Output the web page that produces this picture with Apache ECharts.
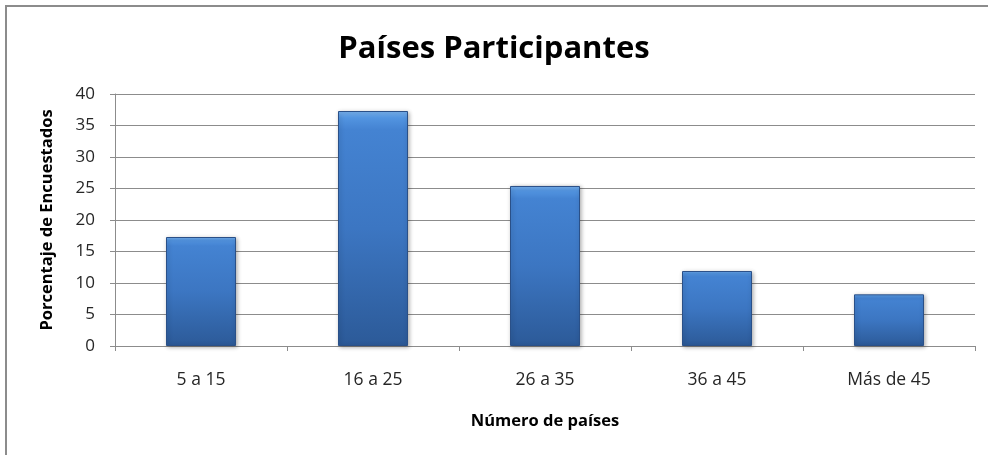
<!DOCTYPE html>
<html>
<head>
<meta charset="utf-8">
<script src="https://cdn.jsdelivr.net/npm/echarts@6/dist/echarts.min.js"></script>
<style>
  html, body { margin: 0; padding: 0; background: #fff; }
  #chart { width: 988px; height: 455px; }
</style>
</head>
<body>
<div id="chart"></div>
<script>
var categories = ['5 a 15', '16 a 25', '26 a 35', '36 a 45', 'Más de 45'];
var values = [17.3, 37.3, 25.4, 11.9, 8.2];

var font = 'Open Sans';
var chart = echarts.init(document.getElementById('chart'));

var option = {
    backgroundColor: '#fff',
    animation: false,
    title: {
        text: 'Países Participantes',
        left: 'center',
        top: 29,
        textStyle: {
            fontFamily: font,
            fontWeight: 'bold',
            fontSize: 31,
            color: '#000'
        }
    },
    graphic: [{
        type: 'rect',
        shape: { x: 6, y: 6, width: 1000, height: 500 },
        style: { fill: 'none', stroke: '#8c8c8c', lineWidth: 2 },
        silent: true
    }],
    grid: {
        left: 115,
        right: 13,
        top: 94,
        bottom: 109
    },
    xAxis: {
        type: 'category',
        data: categories,
        name: 'Número de países',
        nameLocation: 'middle',
        nameGap: 67,
        nameTextStyle: {
            fontFamily: font,
            fontWeight: 'bold',
            fontSize: 16.5,
            color: '#000'
        },
        axisLine: { lineStyle: { color: '#8c8c8c', width: 1 } },
        axisTick: { show: true, length: 5, lineStyle: { color: '#8c8c8c' } },
        axisLabel: {
            margin: 25,
            fontFamily: font,
            fontSize: 17.5,
            color: '#262626'
        }
    },
    yAxis: {
        type: 'value',
        min: 0,
        max: 40,
        interval: 5,
        name: 'Porcentaje de Encuestados',
        nameLocation: 'middle',
        nameGap: 59,
        nameTextStyle: {
            fontFamily: font,
            fontWeight: 'bold',
            fontSize: 16.5,
            color: '#000'
        },
        axisLine: { show: true, lineStyle: { color: '#8c8c8c', width: 1 } },
        axisTick: { show: true, length: 5, lineStyle: { color: '#8c8c8c' } },
        splitLine: { lineStyle: { color: '#8c8c8c', width: 1 } },
        axisLabel: {
            margin: 20,
            fontFamily: font,
            fontSize: 17,
            color: '#262626'
        }
    },
    series: [{
        type: 'bar',
        data: values,
        barWidth: 70,
        itemStyle: {
            color: new echarts.graphic.LinearGradient(0, 0, 0, 1, [
                { offset: 0, color: '#7ab4f2' },
                { offset: 0.03, color: '#5294e0' },
                { offset: 0.08, color: '#4483d2' },
                { offset: 0.5, color: '#3c76c2' },
                { offset: 1, color: '#2c5a98' }
            ]),
            borderColor: '#2a5088',
            borderWidth: 1,
            shadowColor: 'rgba(0,0,0,0.3)',
            shadowBlur: 4,
            shadowOffsetX: 1,
            shadowOffsetY: 1
        }
    }]
};

chart.setOption(option);
</script>
</body>
</html>
